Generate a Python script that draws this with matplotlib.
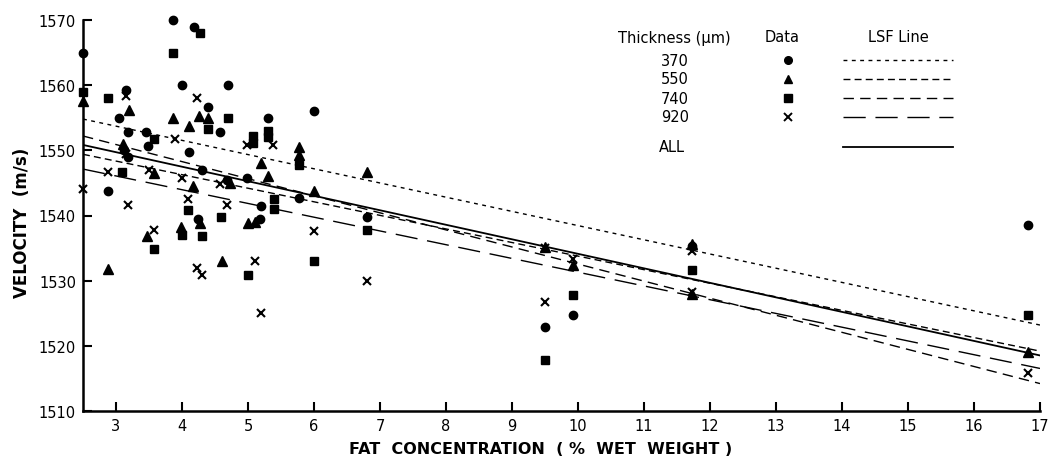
import numpy as np
import matplotlib
matplotlib.use('Agg')
import matplotlib.pyplot as plt

plt.rcParams["font.family"] = ["DejaVu Sans"]

# data: fat concentration (% wet weight), velocity (m/s)
thickness = ['370', '550', '740', '920']
markers = ['o', '^', 's', 'x']

x_370 = [2.5, 2.88, 3.15, 3.05, 3.18, 3.12, 3.18, 3.45, 3.48, 3.87, 4.0, 4.1, 4.18, 4.4, 4.3,
         4.24, 4.58, 4.7, 4.68, 4.98, 5.3, 5.2, 5.18, 5.78, 6.0, 6.8, 9.5, 9.92, 11.73, 16.82]
y_370 = [1565.0, 1543.7, 1559.3, 1555.0, 1552.8, 1550.0, 1549.0, 1552.8, 1550.7, 1570.0, 1560.0,
         1549.8, 1569.0, 1556.7, 1547.0, 1539.5, 1552.8, 1560.0, 1545.5, 1545.8, 1555.0, 1541.5,
         1539.5, 1542.7, 1556.0, 1539.8, 1522.9, 1524.7, 1535.3, 1538.5]

x_550 = [2.5, 2.88, 3.2, 3.1, 3.58, 3.47, 3.87, 3.98, 4.1, 4.25, 4.4, 4.17, 4.28, 4.6, 4.72, 5.2,
         5.3, 5.0, 5.1, 5.78, 5.78, 6.0, 6.8, 9.5, 9.92, 11.73, 11.73, 16.82]
y_550 = [1557.5, 1531.8, 1556.2, 1551.0, 1546.5, 1536.8, 1555.0, 1538.2, 1553.8, 1555.2, 1555.0,
         1544.6, 1538.8, 1533.0, 1545.0, 1548.0, 1546.0, 1538.8, 1539.0, 1550.5, 1549.3, 1543.8,
         1546.6, 1535.2, 1532.4, 1535.7, 1528.0, 1519.0]

x_740 = [2.5, 2.88, 3.09, 3.58, 3.58, 3.87, 4.09, 4.0, 4.27, 4.4, 4.3, 4.59, 4.7, 5.08, 5.08, 5.3,
         5.3, 5.4, 5.4, 5.0, 5.78, 6.0, 6.8, 9.5, 9.92, 11.73, 16.82]
y_740 = [1559.0, 1558.0, 1546.7, 1551.8, 1534.8, 1565.0, 1540.8, 1537.0, 1568.0, 1553.2, 1536.8,
         1539.8, 1554.9, 1552.2, 1551.2, 1553.0, 1552.0, 1542.5, 1541.0, 1530.8, 1547.8, 1533.0,
         1537.8, 1517.8, 1527.8, 1531.7, 1524.8]

x_920 = [2.5, 2.88, 3.15, 3.15, 3.18, 3.5, 3.58, 3.9, 4.0, 4.09, 4.22, 4.22, 4.3, 4.58, 4.68, 4.98,
         5.1, 5.2, 5.38, 6.0, 6.8, 9.5, 9.5, 9.92, 11.73, 11.73, 16.82]
y_920 = [1544.0, 1546.6, 1558.3, 1549.5, 1541.6, 1547.0, 1537.8, 1551.8, 1545.7, 1542.5, 1558.0,
         1531.9, 1530.8, 1544.8, 1541.6, 1550.8, 1533.0, 1525.0, 1550.8, 1537.6, 1530.0, 1535.0,
         1526.8, 1533.3, 1534.5, 1528.2, 1515.8]

# least squares fit lines: velocity = intercept + slope * fat
lsf_names = ['370', '550', '740', '920', 'ALL']
lsf_slope = [-2.18, -2.083, -2.62, -2.11, -2.228]
lsf_intercept = [1560.25, 1554.6, 1558.75, 1552.4, 1556.4]
lsf_dashes = [(2.8, 3.2), (5.0, 3.0), (7.5, 4.5), (16.0, 7.0), None]

xs = [x_370, x_550, x_740, x_920]
ys = [y_370, y_550, y_740, y_920]

W, H = 1049, 460
fig = plt.figure(figsize=(W / 100, H / 100), dpi=100)
ax = fig.add_axes([83 / W, 1 - 412 / H, 957 / W, 391 / H])

for x, y, m in zip(xs, ys, markers):
    if m == 'x':
        ax.plot(x, y, ls='none', marker='x', ms=6.2, mew=1.5, color='k', clip_on=False, zorder=3)
    else:
        ms = {'o': 6, '^': 6.5, 's': 5.5}[m]
        ax.plot(x, y, ls='none', marker=m, ms=ms, color='k', mec='k', clip_on=False, zorder=3)

fat = np.array([2.5, 17.0])
for s, b, d in zip(lsf_slope, lsf_intercept, lsf_dashes):
    line, = ax.plot(fat, b + s * fat, color='k', lw=1.3 if d is None else 1.0)
    if d is not None:
        line.set_dashes(d)

ax.set_xlim(2.5, 17)
ax.set_ylim(1510, 1570)
ax.set_xticks(range(3, 18))
ax.set_yticks(range(1510, 1571, 10))
for side in ['top', 'right']:
    ax.spines[side].set_visible(False)
for side in ['left', 'bottom']:
    ax.spines[side].set_linewidth(1.8)
ax.tick_params(direction='in', length=6.5, width=1.5, labelsize=10.5, pad=5)
ax.set_xlabel('FAT  CONCENTRATION  ( %  WET  WEIGHT )', fontsize=11.5, fontweight='bold')
ax.set_ylabel('VELOCITY  (m/s)', fontsize=12, fontweight='bold')
ax.xaxis.set_label_coords((541 - 83) / 957, (412 - 442) / 391)
ax.yaxis.set_label_coords((31 - 83) / 957, (412 - 223) / 391)


def fx(px):
    return px / W


def fy(py):
    return 1 - py / H


# hand-drawn key, top right
fig.text(fx(674), fy(38), 'Thickness (\u03bcm)', ha='center', va='center', fontsize=10.5)
fig.text(fx(782), fy(38), 'Data', ha='center', va='center', fontsize=10.5)
fig.text(fx(898), fy(38), 'LSF Line', ha='center', va='center', fontsize=10.5)
rows_y = [61, 80, 99, 118]
for name, m, ry in zip(thickness, markers, rows_y):
    fig.text(fx(675), fy(ry), name, ha='center', va='center', fontsize=10.5)
    if m == 'x':
        fig.lines.append(plt.Line2D([fx(788)], [fy(ry)], transform=fig.transFigure, ls='none',
                                    marker='x', ms=5.5, mew=1.4, color='k'))
    else:
        fig.lines.append(plt.Line2D([fx(788)], [fy(ry)], transform=fig.transFigure, ls='none',
                                    marker=m, ms=5.5, color='k'))
fig.text(fx(672), fy(148), 'ALL', ha='center', va='center', fontsize=10.5)
for d, ry in zip(lsf_dashes, rows_y + [148]):
    ln = plt.Line2D([fx(843), fx(953)], [fy(ry), fy(ry)], transform=fig.transFigure,
                    color='k', lw=1.3 if d is None else 1.0)
    if d is not None:
        ln.set_dashes(d)
    fig.lines.append(ln)

fig.savefig('out.png', dpi=100)
